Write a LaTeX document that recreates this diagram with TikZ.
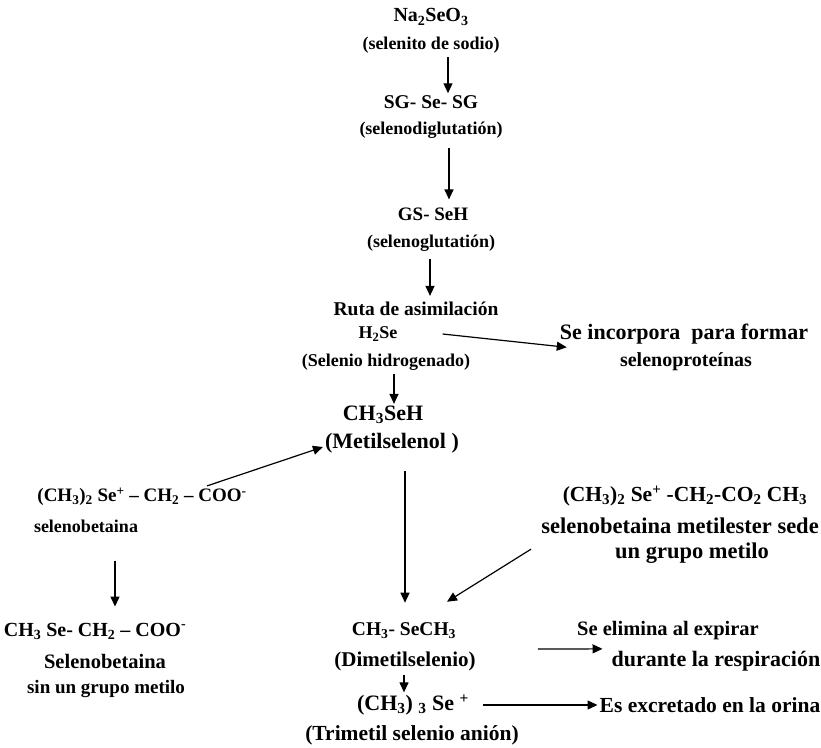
\documentclass[tikz,border=0pt]{standalone}
\usepackage{fontspec}
\setmainfont{Liberation Serif}
\usetikzlibrary{arrows.meta}

\newcommand{\sub}[1]{\textsubscript{#1}}
\newcommand{\sups}[1]{\textsuperscript{#1}}
\newcommand{\fsz}[1]{\fontsize{#1}{#1}\selectfont\bfseries}

\begin{document}
\begin{tikzpicture}[x=1pt, y=-1pt, >={Triangle[length=10pt,width=9pt]},
    every node/.style={font=\fsz{18}, inner sep=2pt},
    flow/.style={->, line width=1.2pt}]
  \useasboundingbox (0,0) rectangle (821,747);

  % cadena principal
  \node[font=\fsz{20}]   (NaSe)  at (431,17)  {Na\sub{2}SeO\sub{3}};
  \node                  (NaSeB) at (431,45)  {(selenito de sodio)};
  \node[font=\fsz{19.5}] (SGSe)  at (431,102) {SG- Se- SG};
  \node                  (SGSeB) at (431,130) {(selenodiglutatión)};
  \node[font=\fsz{19}]   (GSSe)  at (433,214) {GS- SeH};
  \node                  (GSSeB) at (431,243) {(selenoglutatión)};
  \node[font=\fsz{19.5}] (Ruta)  at (416,309) {Ruta de asimilación};
  \node                  (HSe)   at (378,334) {H\sub{2}Se};
  \node                  (HSeB)  at (386,362) {(Selenio hidrogenado)};
  \node[font=\fsz{22}]   (Inc)   at (684,334) {Se incorpora\ \ para formar};
  \node[font=\fsz{20}]   (IncB)  at (686,362) {selenoproteínas};
  \node[font=\fsz{22}]   (MeSe)  at (383,415) {CH\sub{3}SeH};
  \node[font=\fsz{22}]   (MeSeB) at (392,443) {(Metilselenol )};

  % selenobetainas
  \node[font=\fsz{19}]   (Sb)    at (142,497) {(CH\sub{3})\sub{2} Se\sups{+} -- CH\sub{2} -- COO\sups{-}};
  \node                  (SbB)   at (86,526)  {selenobetaina};
  \node[font=\fsz{21.5}] (Ms)    at (685,496) {(CH\sub{3})\sub{2} Se\sups{+} -CH\sub{2}-CO\sub{2} CH\sub{3}};
  \node[font=\fsz{22.5}] (MsB)   at (680,526) {selenobetaina metilester sede};
  \node[font=\fsz{22.5}] (MsC)   at (692,553) {un grupo metilo};
  \node[font=\fsz{20}]   (Cs)    at (95,631)  {CH\sub{3} Se- CH\sub{2} -- COO\sups{-}};
  \node[font=\fsz{20.5}] (CsB)   at (105,661) {Selenobetaina};
  \node[font=\fsz{19}]   (CsC)   at (106,689) {sin un grupo metilo};

  % metilados finales
  \node[font=\fsz{19.5}] (Dm)    at (404,631) {CH\sub{3}- SeCH\sub{3}};
  \node[font=\fsz{21}]   (DmB)   at (405,661) {(Dimetilselenio)};
  \node[font=\fsz{22}]   (Tm)    at (413,705) {(CH\sub{3}) \sub{3} Se \sups{+}};
  \node[font=\fsz{21.5}] (TmB)   at (412,735) {(Trimetil selenio anión)};
  \node[font=\fsz{20.5}] (El)    at (668,631) {Se elimina al expirar};
  \node[font=\fsz{22}]   (ElB)   at (716,661) {durante la respiración};
  \node[font=\fsz{21.5}] (Ex)    at (710,705) {Es excretado en la orina};

  \path[flow]
    ([xshift=17pt]NaSeB.south) edge [shorten <=2pt] ([xshift=17pt]SGSe.north)
    ([xshift=18pt]SGSeB.south) edge [shorten <=8pt, shorten >=6pt] ([xshift=16pt]GSSe.north)
    ([xshift=-1pt]GSSeB.south) edge [shorten <=6pt, shorten >=4pt] ([xshift=14pt]Ruta.north)
    ([xshift=43pt]HSe.east)    edge ([xshift=9pt,yshift=-1pt]Inc.south west)
    ([xshift=8pt]HSeB.south)   edge [shorten <=2pt] ([xshift=11pt]MeSe.north)
    ([xshift=65pt]Sb.north)    edge ([yshift=-4pt]MeSeB.west)
    ([xshift=13pt]MeSeB.south) edge [shorten <=16pt, shorten >=18pt] ([xshift=1pt]Dm.north)
    ([xshift=29pt]SbB.south)   edge [shorten <=26pt, shorten >=14pt] ([xshift=20pt]Cs.north)
    ([shift={(-8pt,-13pt)}]MsB.south west) edge ([shift={(43pt,19pt)}]Dm.north)
    (DmB.north east)           edge [shorten <=60pt, shorten >=7pt] (ElB.north west)
    ([xshift=-1pt]DmB.south)   edge [shorten <=2pt] ([xshift=-9pt]Tm.north)
    (Tm.east)                  edge [shorten <=12pt] (Ex.west);
\end{tikzpicture}
\end{document}
